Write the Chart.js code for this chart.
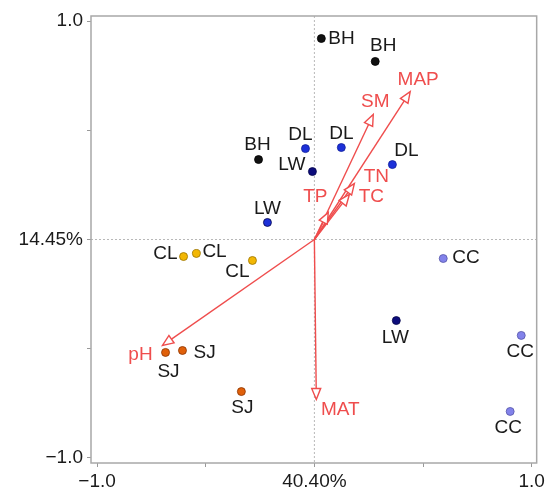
<!DOCTYPE html>
<html>
<head>
    <meta charset="UTF-8">
    <title>RDA biplot</title>
    <script src="https://cdn.jsdelivr.net/npm/chart.js"></script>
    <style>
        html, body { margin: 0; padding: 0; background: #fff; }
        #wrap { width: 548px; height: 490px; position: relative; }
    </style>
</head>
<body>
    <div id="wrap"><canvas id="biplot"></canvas></div>

    <script>
        // sample sites (scores on axis 1 / axis 2)
        var siteGroup = ['BH', 'BH', 'BH', 'DL', 'DL', 'DL', 'LW', 'LW', 'LW',
                         'CL', 'CL', 'CL', 'SJ', 'SJ', 'SJ', 'CC', 'CC', 'CC'];
        var siteX = [0.032, 0.280, -0.257, -0.041, 0.124, 0.359, -0.009, -0.216, 0.377,
                     -0.602, -0.543, -0.285, -0.685, -0.607, -0.336, 0.593, 0.952, 0.901];
        var siteY = [0.920, 0.815, 0.366, 0.416, 0.421, 0.343, 0.311, 0.078, -0.371,
                     -0.078, -0.064, -0.096, -0.517, -0.508, -0.696, -0.087, -0.439, -0.787];

        // environmental vectors
        var envNames = ['MAP', 'SM', 'TN', 'TC', 'TP', 'pH', 'MAT'];
        var envX = [0.441, 0.271, 0.184, 0.161, 0.064, -0.699, 0.009];
        var envY = [0.677, 0.572, 0.256, 0.206, 0.124, -0.485, -0.732];

        // axis ticks
        var tickValues = [-1, -0.5, 0, 0.5, 1];
        var xTickLabels = ['\u22121.0', '', '40.40%', '', '1.0'];
        var yTickLabels = ['\u22121.0', '', '14.45%', '', '1.0'];

        // label placement in pixels: [dx, dy, align]
        var siteLabelPos = [
            [7, 0, 'left'], [8, -16, 'center'], [-1, -15, 'center'],
            [-5, -14, 'center'], [0, -14, 'center'], [14, -14, 'center'],
            [-7, -7, 'right'], [0, -14, 'center'], [-1, 17, 'center'],
            [-6, -3, 'right'], [6, -2, 'left'], [-15, 11, 'center'],
            [3, 19, 'center'], [11, 2, 'left'], [1, 16, 'center'],
            [9, -1, 'left'], [-1, 16, 'center'], [-2, 16, 'center']
        ];
        var envLabelPos = [[8, -12], [2, -13], [22, -7], [22, 2], [-13, -16], [-22, 9], [24, 10]];

        var groupStyle = {
            BH: { fill: '#111111', edge: '#000000' },
            DL: { fill: '#1c30d8', edge: '#10209a' },
            LW: { fill: ['#0c0c7c', '#1c30d8', '#0c0c7c'], edge: '#06064a' },
            CL: { fill: '#f2b705', edge: '#9a7400' },
            SJ: { fill: '#e0600a', edge: '#8a3400' },
            CC: { fill: '#8282ea', edge: '#5656a8' }
        };

        var RED = '#ef4d4d';
        var FONT = '"Liberation Sans", Arial, sans-serif';

        var datasets = Object.keys(groupStyle).map(function (g) {
            var pts = [];
            siteGroup.forEach(function (sg, i) {
                if (sg === g) pts.push({ x: siteX[i], y: siteY[i] });
            });
            return {
                label: g,
                data: pts,
                pointRadius: 4,
                pointBackgroundColor: groupStyle[g].fill,
                pointBorderColor: groupStyle[g].edge,
                pointBorderWidth: 0.8
            };
        });

        var biplotPlugin = {
            id: 'biplot',
            beforeDatasetsDraw: function (chart) {
                var ctx = chart.ctx, a = chart.chartArea;
                var xs = chart.scales.x, ys = chart.scales.y;
                var x0 = xs.getPixelForValue(0), y0 = ys.getPixelForValue(0);

                // dotted zero lines
                ctx.save();
                ctx.strokeStyle = '#b8b8b8';
                ctx.lineWidth = 1;
                ctx.setLineDash([2, 2]);
                ctx.beginPath();
                ctx.moveTo(x0, a.top); ctx.lineTo(x0, a.bottom);
                ctx.moveTo(a.left, y0); ctx.lineTo(a.right, y0);
                ctx.stroke();
                ctx.setLineDash([]);

                // arrows with open heads
                ctx.strokeStyle = RED;
                ctx.lineWidth = 1.4;
                envX.forEach(function (vx, i) {
                    var tx = xs.getPixelForValue(vx), ty = ys.getPixelForValue(envY[i]);
                    var ang = Math.atan2(ty - y0, tx - x0);
                    var hl = 11, hw = 4.5;
                    var c = Math.cos(ang), s = Math.sin(ang);
                    var bx = tx - hl * c, by = ty - hl * s;
                    ctx.beginPath();
                    ctx.moveTo(x0, y0); ctx.lineTo(bx, by);
                    ctx.stroke();
                    ctx.beginPath();
                    ctx.moveTo(tx, ty);
                    ctx.lineTo(bx - hw * s, by + hw * c);
                    ctx.lineTo(bx + hw * s, by - hw * c);
                    ctx.closePath();
                    ctx.fillStyle = '#fff';
                    ctx.fill();
                    ctx.stroke();
                });
                ctx.restore();
            },
            afterDraw: function (chart) {
                var ctx = chart.ctx, a = chart.chartArea;
                var xs = chart.scales.x, ys = chart.scales.y;

                ctx.save();
                // frame
                ctx.strokeStyle = '#a8a8a8';
                ctx.lineWidth = 1.5;
                ctx.strokeRect(a.left, a.top, a.right - a.left, a.bottom - a.top);

                ctx.font = '19px ' + FONT;
                ctx.textBaseline = 'middle';

                // site labels
                ctx.fillStyle = '#1a1a1a';
                siteGroup.forEach(function (g, i) {
                    var p = siteLabelPos[i];
                    ctx.textAlign = p[2];
                    ctx.fillText(g, xs.getPixelForValue(siteX[i]) + p[0], ys.getPixelForValue(siteY[i]) + p[1]);
                });

                // vector labels
                ctx.fillStyle = RED;
                ctx.textAlign = 'center';
                envNames.forEach(function (n, i) {
                    var p = envLabelPos[i];
                    ctx.fillText(n, xs.getPixelForValue(envX[i]) + p[0], ys.getPixelForValue(envY[i]) + p[1]);
                });
                ctx.restore();
            }
        };

        function setTicks(axis) {
            axis.ticks = tickValues.map(function (v) { return { value: v }; });
        }

        var ctx = document.getElementById('biplot').getContext('2d');
        var chart = new Chart(ctx, {
            type: 'scatter',
            data: { datasets: datasets },
            options: {
                responsive: true,
                maintainAspectRatio: false,
                animation: false,
                layout: { padding: { left: 0, top: 16, right: 11, bottom: 0 } },
                plugins: {
                    legend: { display: false },
                    tooltip: { enabled: false }
                },
                scales: {
                    x: {
                        type: 'linear',
                        min: -1.028,
                        max: 1.023,
                        afterBuildTicks: setTicks,
                        afterFit: function (axis) { axis.height = 27; },
                        border: { display: false },
                        grid: { drawOnChartArea: false, tickLength: 4, color: '#999' },
                        ticks: {
                            maxRotation: 0,
                            autoSkip: false,
                            padding: 3,
                            color: '#1a1a1a',
                            font: { size: 19, family: FONT },
                            callback: function (v) { return xTickLabels[tickValues.indexOf(v)]; }
                        }
                    },
                    y: {
                        type: 'linear',
                        min: -1.023,
                        max: 1.023,
                        afterBuildTicks: setTicks,
                        afterFit: function (axis) { axis.width = 91; },
                        border: { display: false },
                        grid: { drawOnChartArea: false, tickLength: 4, color: '#999' },
                        ticks: {
                            autoSkip: false,
                            padding: 4,
                            color: '#1a1a1a',
                            font: { size: 19, family: FONT },
                            callback: function (v) { return yTickLabels[tickValues.indexOf(v)]; }
                        }
                    }
                }
            },
            plugins: [biplotPlugin]
        });
    </script>
</body>
</html>
